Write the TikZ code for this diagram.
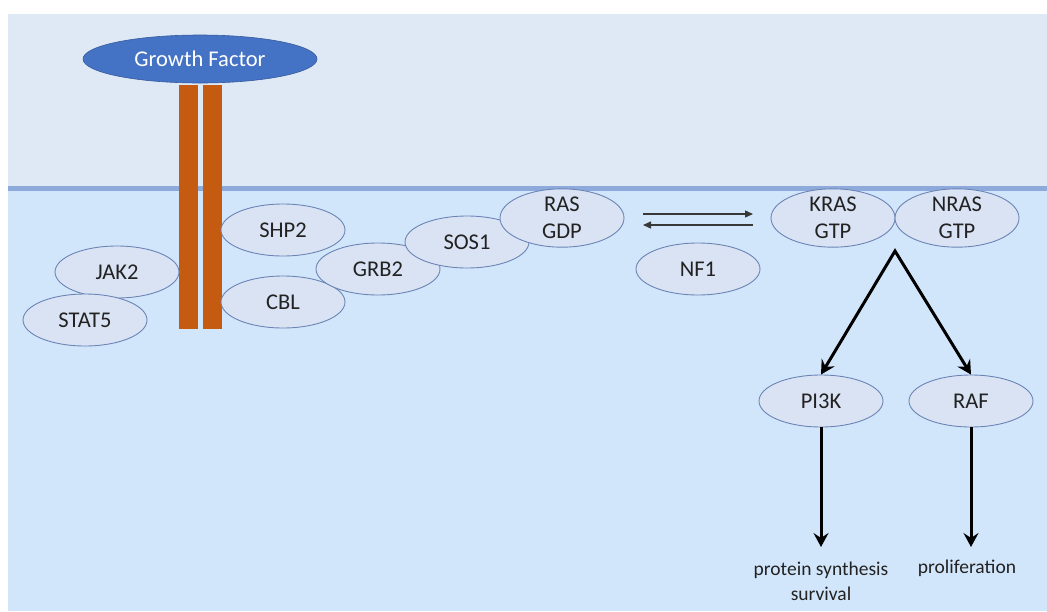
\documentclass[tikz,border=0pt]{standalone}
\usepackage{fontspec}
\setmainfont{Carlito}
\usetikzlibrary{shapes.geometric,arrows.meta}
\definecolor{topbg}{HTML}{DEE9F5}
\definecolor{botbg}{HTML}{D2E6FB}
\definecolor{membrane}{HTML}{8EAADB}
\definecolor{gfblue}{HTML}{4472C4}
\definecolor{barorange}{HTML}{C55A11}
\definecolor{protfill}{HTML}{DAE3F3}
\definecolor{protline}{HTML}{6A84B5}
\definecolor{txt}{HTML}{222222}
\tikzset{
  prot/.style={ellipse, draw=protline, line width=0.9pt, fill=protfill,
    minimum width=124pt, minimum height=52pt, inner sep=0pt,
    font=\fontsize{22.5}{26.5}\selectfont, text=txt, align=center},
  bar/.style={fill=barorange, draw=none, minimum width=19pt, minimum height=244pt, inner sep=0pt},
  thin/.style={draw=txt!90, line width=1.3pt, -{Triangle[length=8pt,width=7pt]}},
  thick/.style={draw=black, line width=3pt, line join=miter},
  tip/.tip={Stealth[length=14pt,width=15pt,inset=5pt]},
  lab/.style={font=\fontsize{19.5}{25}\selectfont, text=txt, align=center}
}
\begin{document}
\begin{tikzpicture}[x=1pt,y=-1pt]
\useasboundingbox (0,0) rectangle (1047,611);
\fill[white] (0,0) rectangle (1047,611);
\fill[topbg] (8,14) rectangle (1047,188);
\fill[botbg] (8,188) rectangle (1047,611);
\draw[membrane, line width=5pt] (8,188) -- (1047,188);
% receptor
\node[bar] (bar1) at (188.5,207) {};
\node[bar] (bar2) at (212,207) {};
\node[ellipse, fill=gfblue, draw=gfblue!80!black, line width=0.6pt, minimum width=234pt, minimum height=48pt, inner sep=0pt,
  text=white, font=\fontsize{22.5}{26.5}\selectfont] (gf) at (200,59) {Growth Factor};
% proteins
\node[prot] (jak2) at (117,272) {JAK2};
\node[prot] (stat5) at (85,320) {STAT5};
\node[prot] (shp2) at (283,230) {SHP2};
\node[prot] (cbl) at (283,302) {CBL};
\node[prot] (grb2) at (378,269) {GRB2};
\node[prot] (sos1) at (467,242) {SOS1};
\node[prot] (rasgdp) at (562,218) {RAS\\GDP};
\node[prot] (nf1) at (698,269) {NF1};
\node[prot] (kras) at (833,218) {KRAS\\GTP};
\node[prot] (nras) at (957,218) {NRAS\\GTP};
\node[prot] (pi3k) at (821,401) {PI3K};
\node[prot] (raf) at (971,401) {RAF};
% equilibrium arrows
\coordinate (a1) at (643,214);
\coordinate (a2) at (753,214);
\coordinate (b1) at (753,225);
\coordinate (b2) at (643,225);
\draw[thin] (a1) -- (a2);
\draw[thin] (b1) -- (b2);
% signalling arrows
\coordinate (apex) at (895,251);
\draw[thick, {tip}-{tip}] (pi3k.north) -- (apex) -- (raf.north);
\coordinate (pend) at (821,547);
\coordinate (rend) at (971,547);
\draw[thick, -{tip}] (pi3k.south) -- (pend);
\draw[thick, -{tip}] (raf.south) -- (rend);
\node[lab] (ps) at (821,581) {protein synthesis\\survival};
\node[lab] (prol) at (967,568) {proliferation};
\end{tikzpicture}
\end{document}
